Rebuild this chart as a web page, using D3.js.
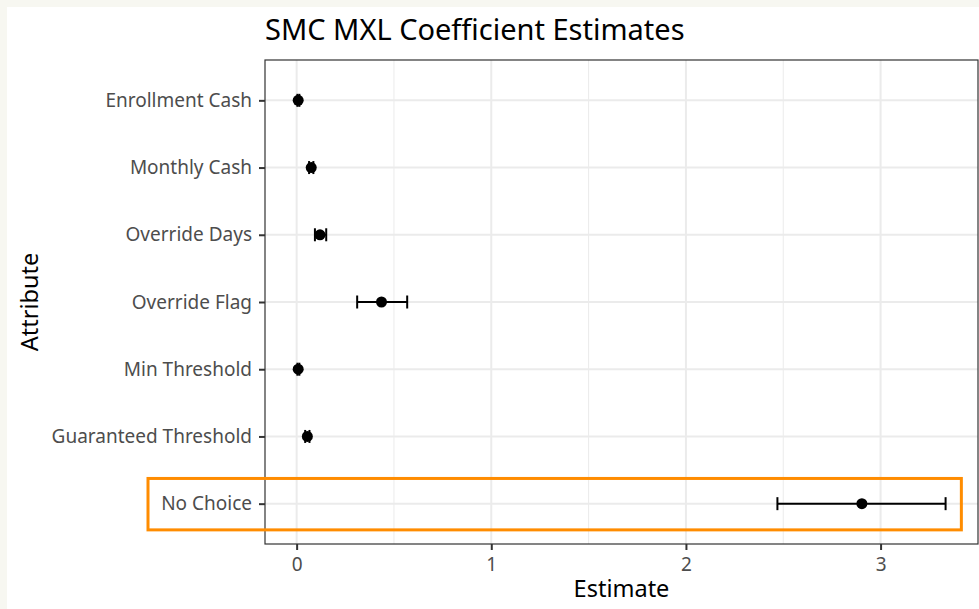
<!DOCTYPE html>
<html>
<head>
<meta charset="utf-8">
<script src="https://cdn.jsdelivr.net/npm/d3@7"></script>
<style>
  html, body { margin: 0; padding: 0; background: #f7f7f1; }
  svg { display: block; }
</style>
</head>
<body>
<svg id="chart" width="979" height="609"></svg>
<script>
// Mixed-logit coefficient estimates with 95% intervals
const attributes = ["Enrollment Cash", "Monthly Cash", "Override Days", "Override Flag",
                    "Min Threshold", "Guaranteed Threshold", "No Choice"];
const estimates  = [0.008, 0.075, 0.120, 0.436, 0.008, 0.055, 2.904];
const lowerCI    = [0.004, 0.064, 0.094, 0.311, 0.004, 0.044, 2.470];
const upperCI    = [0.014, 0.086, 0.152, 0.568, 0.014, 0.066, 3.334];
const xTicks     = [0, 1, 2, 3];
const xMinor     = [0.5, 1.5, 2.5];
const highlighted = "No Choice";

const rows = attributes.map((a, i) => ({ attr: a, est: estimates[i], lo: lowerCI[i], hi: upperCI[i] }));

const svg = d3.select("#chart");
const W = 979, H = 609;
const font = "'Noto Sans', 'DejaVu Sans', sans-serif";

// white plot background inside the cream frame
svg.append("rect").attr("x", 7).attr("y", 7).attr("width", W - 7).attr("height", H - 7).attr("fill", "#ffffff");

const panel = { left: 265, right: 978, top: 60, bottom: 544 };

// continuous x with ggplot-style 5% expansion around the data extent
const lo = d3.min(lowerCI), hi = d3.max(upperCI);
const pad = 0.05 * (hi - lo);
const x = d3.scaleLinear().domain([lo - pad, hi + pad]).range([panel.left, panel.right]);

// discrete y with 0.6-unit expansion at each end
const y = d3.scalePoint().domain(attributes).range([panel.top, panel.bottom]).padding(0.6);
const step = y.step();

// grid
const g = svg.append("g");
g.selectAll("line.minor").data(xMinor).join("line")
  .attr("x1", d => x(d)).attr("x2", d => x(d))
  .attr("y1", panel.top).attr("y2", panel.bottom)
  .attr("stroke", "#ebebeb").attr("stroke-width", 1);
g.selectAll("line.majx").data(xTicks).join("line")
  .attr("x1", d => x(d)).attr("x2", d => x(d))
  .attr("y1", panel.top).attr("y2", panel.bottom)
  .attr("stroke", "#ebebeb").attr("stroke-width", 2);
g.selectAll("line.majy").data(attributes).join("line")
  .attr("x1", panel.left).attr("x2", panel.right)
  .attr("y1", d => y(d)).attr("y2", d => y(d))
  .attr("stroke", "#ebebeb").attr("stroke-width", 2);

// error bars
const capH = 13;
const eb = svg.append("g").attr("stroke", "#000").attr("stroke-width", 2);
rows.forEach(r => {
  eb.append("line").attr("x1", x(r.lo)).attr("x2", x(r.hi)).attr("y1", y(r.attr)).attr("y2", y(r.attr));
  eb.append("line").attr("x1", x(r.lo)).attr("x2", x(r.lo)).attr("y1", y(r.attr) - capH / 2).attr("y2", y(r.attr) + capH / 2);
  eb.append("line").attr("x1", x(r.hi)).attr("x2", x(r.hi)).attr("y1", y(r.attr) - capH / 2).attr("y2", y(r.attr) + capH / 2);
});

// point estimates
svg.append("g").selectAll("circle").data(rows).join("circle")
  .attr("cx", d => x(d.est)).attr("cy", d => y(d.attr)).attr("r", 5.5).attr("fill", "#000");

// panel border
svg.append("rect").attr("x", panel.left).attr("y", panel.top)
  .attr("width", panel.right - panel.left).attr("height", panel.bottom - panel.top)
  .attr("fill", "none").attr("stroke", "#333333").attr("stroke-width", 1.2);

// axes
const xAxis = svg.append("g").attr("transform", `translate(0,${panel.bottom})`)
  .call(d3.axisBottom(x).tickValues(xTicks).tickFormat(d3.format("d")).tickSize(6).tickPadding(4));
const yAxis = svg.append("g").attr("transform", `translate(${panel.left},0)`)
  .call(d3.axisLeft(y).tickSize(6).tickPadding(7));
[xAxis, yAxis].forEach(a => {
  a.select(".domain").remove();
  a.selectAll(".tick line").attr("stroke", "#333333").attr("stroke-width", 2);
  a.selectAll(".tick text").attr("fill", "#4d4d4d").style("font-family", font).style("font-size", "19px");
});
xAxis.selectAll(".tick text").attr("dy", "0.9em");

// highlight box around the outside option row
const hy = y(highlighted);
svg.append("rect")
  .attr("x", 148).attr("y", hy - 0.375 * step)
  .attr("width", x(3.415) - 148).attr("height", 0.75 * step + 1)
  .attr("fill", "none").attr("stroke", "#ff8c00").attr("stroke-width", 3);

// titles
svg.append("text").attr("x", panel.left).attr("y", 40)
  .style("font-family", font).style("font-size", "29px").attr("fill", "#000")
  .text("SMC MXL Coefficient Estimates");
svg.append("text").attr("x", (panel.left + panel.right) / 2).attr("y", 597)
  .attr("text-anchor", "middle").style("font-family", font).style("font-size", "23.5px").attr("fill", "#000")
  .text("Estimate");
svg.append("text").attr("transform", `translate(38,${(panel.top + panel.bottom) / 2}) rotate(-90)`)
  .attr("text-anchor", "middle").style("font-family", font).style("font-size", "23.5px").attr("fill", "#000")
  .text("Attribute");
</script>
</body>
</html>
